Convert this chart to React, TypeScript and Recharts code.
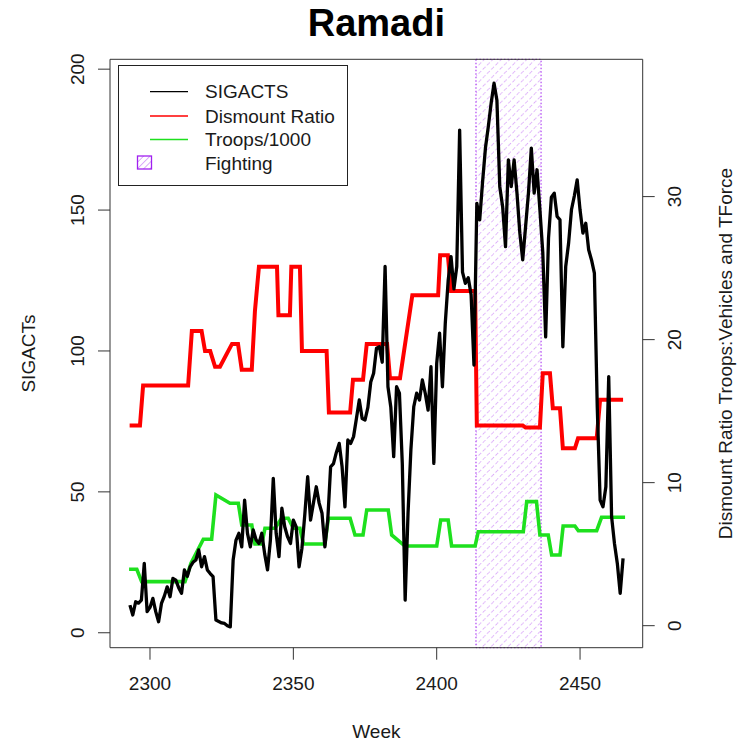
import React from "react";
import { LineChart, Line, XAxis, YAxis, ReferenceArea } from "recharts";

// weekly SIGACTS, first value is week 2293
const sigactsFirstWeek = 2293;
const sigacts = [
  9.8, 6.3, 11, 10.5, 11.6, 24.6, 7.5, 9, 12.2, 7.5,
  3.9, 10.4, 13, 16.3, 12.8, 19.3, 18.7, 16, 14, 22.3,
  20, 23.4, 25, 25.8, 29.4, 23.4, 27, 22.3, 21, 19.9,
  4.5, 4, 3.5, 3.3, 2.5, 2.1, 25.8, 32.9, 35.3, 30.5,
  47.1, 35.3, 30.5, 36.5, 33, 31.7, 35.3, 28, 22.3, 32.9,
  54.8, 35.3, 27, 44.2, 37.6, 34, 31.7, 40, 37.6, 23.4,
  30, 42, 55.4, 40, 46, 51.8, 46, 42.4, 30.5, 40,
  58.9, 60, 64, 67.2, 58.9, 44.7, 68.4, 67.2, 69.6, 76,
  82.6, 76, 75.5, 80, 89, 92.1, 101, 101.5, 96, 130,
  87.3, 80, 62.5, 87.3, 85, 60, 11.6, 42.4, 65, 80.2,
  85, 82.6, 89.7, 85, 79, 94.4, 60.1, 95.6, 106.3, 87.3,
  110, 125, 133.5, 122, 130, 178.4, 128, 124, 126, 120,
  95, 152.4, 146.5, 160, 172, 179.6, 188, 195, 189, 158.3,
  151.2, 137, 167.8, 158.3, 167.8, 156, 141.8, 132.3, 144.1, 156,
  172, 156, 164.3, 150.1, 135, 105, 140, 154.6, 156, 147.7,
  146.5, 101.5, 130, 138.2, 150.1, 155, 160.7, 150, 141.8, 145.3,
  135.9, 132.3, 127.6, 80, 47.1, 44.7, 51.8, 90.9, 41.2, 31.7,
  24.6, 14, 26.4,
];

// step corners of the dismount ratio (right axis)
const dismountWeeks = [
  2292.9, 2296.5, 2297.6, 2313.3, 2314.6, 2318, 2319.2, 2321, 2322.7, 2324.4,
  2328.6, 2330.7, 2332, 2335.5, 2336.6, 2338, 2344.3, 2344.8, 2348.8, 2349.3,
  2352.3, 2353, 2361.6, 2362.4, 2369.8, 2370.8, 2374.3, 2375.6, 2382.7, 2383.7,
  2387.2, 2391.5, 2400.5, 2401.2, 2403.9, 2405, 2413.4, 2414, 2430, 2431,
  2436, 2437, 2439.5, 2440.5, 2443, 2444, 2448.2, 2449.3, 2455.8, 2457, 2465,
];
const dismountRatio = [
  14, 14, 16.8, 16.8, 20.6, 20.6, 19.2, 19.2, 18.1, 18.1,
  19.7, 19.7, 17.9, 17.9, 22, 25.1, 25.1, 21.7, 21.7, 25.1,
  25.1, 19.2, 19.2, 14.9, 14.9, 17.2, 17.2, 19.7, 19.7, 17.3,
  17.3, 23.1, 23.1, 25.9, 25.9, 23.4, 23.4, 14, 14, 13.85,
  13.85, 17.65, 17.65, 15.2, 15.2, 12.4, 12.4, 13.1, 13.1, 15.8, 15.8,
];

// step corners of troops / 1000 (right axis)
const troopWeeks = [
  2292.7, 2295.4, 2297.1, 2312.2, 2314.3, 2318.6, 2321.5, 2323, 2327.9, 2330.8,
  2332, 2335.5, 2336.6, 2339, 2340.1, 2343.6, 2345.9, 2348.2, 2350, 2352.3,
  2353.5, 2361, 2362.2, 2369.8, 2371.5, 2374.3, 2375.6, 2383.1, 2384.3, 2388.9,
  2400, 2401.4, 2404, 2405.2, 2413.4, 2414.5, 2430.2, 2431.4, 2434.8, 2436,
  2438.9, 2440.1, 2443, 2444.1, 2448.2, 2449.4, 2455.8, 2457.5, 2465.7,
];
const troopsPer1000 = [
  3.94, 3.94, 3.08, 3.08, 4.36, 6.04, 6.04, 9.14, 8.56, 8.56,
  7.04, 7.04, 5.71, 5.71, 6.81, 6.81, 7.51, 7.51, 6.81, 6.81,
  5.71, 5.71, 7.51, 7.51, 6.34, 6.34, 8.09, 8.09, 6.34, 5.57,
  5.57, 7.39, 7.39, 5.57, 5.57, 6.57, 6.57, 8.67, 8.67, 6.34,
  6.34, 4.94, 4.94, 6.97, 6.97, 6.64, 6.64, 7.58, 7.58,
];

const fightingWeeks = [2413.7, 2436.4];
const weekTicks = [2300, 2350, 2400, 2450];
const sigactTicks = [0, 50, 100, 150, 200];
const ratioTicks = [0, 10, 20, 30];
const legendNames = ["SIGACTS", "Dismount Ratio", "Troops/1000", "Fighting"];
const legendColors = ["#000000", "#ff0000", "#1ee01e", "#a020f0"];

const weekDomain = [2286.05, 2471.85];
const leftDomain = [-5.3, 203.5];
const rightDomain = [-1.54, 39.6];

const sigactsData = sigacts.map((v, i) => ({ week: sigactsFirstWeek + i, v }));
const dismountData = dismountWeeks.map((w, i) => ({ week: w, v: dismountRatio[i] }));
const troopData = troopWeeks.map((w, i) => ({ week: w, v: troopsPer1000[i] }));

const font = "'Liberation Sans', Arial, sans-serif";
const ink = "#1a1a1a";
const purple = "#a020f0";

function WeekTick({ x, y, payload }: any) {
  return (
    <text x={x} y={y + 22} textAnchor="middle" dominantBaseline="central" fontSize={19} fontFamily={font} fill={ink}>
      {payload.value}
    </text>
  );
}

function LeftTick({ x, y, payload }: any) {
  const cx = x - 18;
  return (
    <text x={cx} y={y} transform={`rotate(-90 ${cx} ${y})`} textAnchor="middle" dominantBaseline="central" fontSize={19} fontFamily={font} fill={ink}>
      {payload.value}
    </text>
  );
}

function RightTick({ x, y, payload }: any) {
  const cx = x + 18;
  return (
    <text x={cx} y={y} transform={`rotate(-90 ${cx} ${y})`} textAnchor="middle" dominantBaseline="central" fontSize={19} fontFamily={font} fill={ink}>
      {payload.value}
    </text>
  );
}

function Hatch({ id, dense }: { id: string; dense?: boolean }) {
  const s = dense ? 4.5 : 6;
  return (
    <pattern id={id} patternUnits="userSpaceOnUse" width={s} height={s} patternTransform="rotate(45)">
      <line x1="0" y1="0" x2="0" y2={s} stroke={purple} strokeOpacity={0.75} strokeWidth="1" strokeDasharray={dense ? "none" : "1.6 2.4"} />
    </pattern>
  );
}

export default function App() {
  const rowY = [91.7, 116, 139.5, 163];
  return (
    <div style={{ position: "absolute", left: 0, top: 0, width: 744, height: 742, background: "#fff" }}>
      <LineChart width={744} height={742} margin={{ top: 59.3, right: 0, bottom: 0, left: 0 }}>
        <defs>
          <Hatch id="fightHatch" />
        </defs>
        <XAxis
          dataKey="week"
          type="number"
          domain={weekDomain}
          ticks={weekTicks}
          allowDataOverflow
          height={94.3}
          tickSize={12}
          axisLine={false}
          tickLine={{ stroke: "#333" }}
          tick={<WeekTick />}
        />
        <YAxis
          yAxisId="left"
          type="number"
          domain={leftDomain}
          ticks={sigactTicks}
          allowDataOverflow
          width={110}
          tickSize={12}
          axisLine={false}
          tickLine={{ stroke: "#333" }}
          tick={<LeftTick />}
        />
        <YAxis
          yAxisId="right"
          orientation="right"
          type="number"
          domain={rightDomain}
          ticks={ratioTicks}
          allowDataOverflow
          width={101.3}
          tickSize={12}
          axisLine={false}
          tickLine={{ stroke: "#333" }}
          tick={<RightTick />}
        />
        <ReferenceArea
          yAxisId="left"
          x1={fightingWeeks[0]}
          x2={fightingWeeks[1]}
          fill="url(#fightHatch)"
          fillOpacity={1}
          stroke={purple}
          strokeDasharray="1.5 2"
          strokeWidth={1}
        />
        <Line data={dismountData} dataKey="v" yAxisId="right" type="linear" stroke="#ff0000" strokeWidth={4} dot={false} activeDot={false} isAnimationActive={false} />
        <Line data={troopData} dataKey="v" yAxisId="right" type="linear" stroke="#1ee01e" strokeWidth={3.6} dot={false} activeDot={false} isAnimationActive={false} />
        <Line data={sigactsData} dataKey="v" yAxisId="left" type="linear" stroke="#000" strokeWidth={3.3} strokeLinejoin="round" dot={false} activeDot={false} isAnimationActive={false} />
        <ReferenceArea yAxisId="left" x1={weekDomain[0]} x2={weekDomain[1]} fill="none" stroke="#333" strokeWidth={1} />
      </LineChart>

      <svg width={744} height={742} style={{ position: "absolute", left: 0, top: 0, pointerEvents: "none" }} fontFamily={font}>
        <defs>
          <Hatch id="legendHatch" dense />
        </defs>
        <text x={376.4} y={36} textAnchor="middle" fontSize={38} fontWeight="bold" fill="#000">Ramadi</text>
        <text x={376.4} y={731} textAnchor="middle" dominantBaseline="central" fontSize={19} fill={ink}>Week</text>
        <text x={28} y={353.5} transform="rotate(-90 28 353.5)" textAnchor="middle" dominantBaseline="central" fontSize={19} fill={ink}>SIGACTs</text>
        <text x={725} y={353.5} transform="rotate(-90 725 353.5)" textAnchor="middle" dominantBaseline="central" fontSize={19} fill={ink}>
          Dismount Ratio Troops:Vehicles and TForce
        </text>

        <rect x={118.5} y={65.5} width={229} height={120} fill="#fff" stroke="#222" strokeWidth={1} />
        {legendNames.map((name, i) => (
          <g key={name}>
            {i < 3 ? (
              <line x1={150} x2={188} y1={rowY[i]} y2={rowY[i]} stroke={legendColors[i]} strokeWidth={1.3} />
            ) : (
              <rect x={137.5} y={rowY[i] - 7} width={14} height={13} fill="url(#legendHatch)" stroke={legendColors[i]} strokeWidth={1.3} />
            )}
            <text x={205} y={rowY[i]} dominantBaseline="central" fontSize={19} fill={ink}>{name}</text>
          </g>
        ))}
      </svg>
    </div>
  );
}
